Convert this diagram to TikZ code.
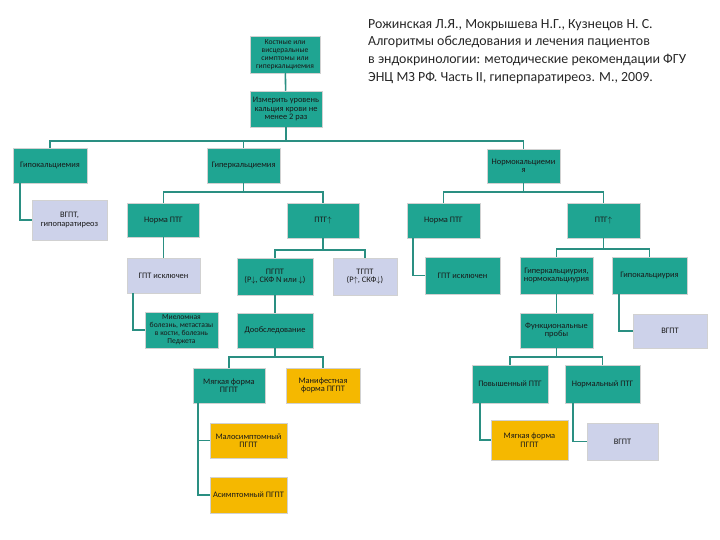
\documentclass[tikz,border=0pt]{standalone}
\usepackage{fontspec}
\setmainfont{Carlito}
\definecolor{tealc}{HTML}{1FA592}
\definecolor{linec}{HTML}{2A8F82}
\definecolor{lavc}{HTML}{CDD2EA}
\definecolor{orgc}{HTML}{F5B800}
\tikzset{
  box/.style={rectangle, draw=black!18, line width=0.5pt, inner sep=0.5pt, align=center,
     font=\fontsize{8.4}{8.6}\selectfont, text=black!90},
  small/.style={font=\fontsize{7.6}{8}\selectfont},
  tbox/.style={box, fill=tealc},
  lbox/.style={box, fill=lavc},
  obox/.style={box, fill=orgc},
  conn/.style={draw=linec, line width=1.6pt},
}
\begin{document}
\begin{tikzpicture}[x=1pt,y=-1pt]
\useasboundingbox (0,0) rectangle (720,540);
% nodes
\node[tbox, small, minimum width=70pt, minimum height=37pt] (n1) at (285,54.5) {Костные или\\висцеральные\\симптомы или\\гиперкальциемия};
\node[tbox, minimum width=72pt, minimum height=36pt] (n2) at (286,109) {Измерить уровень\\кальция крови не\\менее 2 раз};
\node[tbox, minimum width=74pt, minimum height=35pt] (hypo) at (50,165.5) {Гипокальциемия};
\node[tbox, minimum width=73pt, minimum height=35pt] (hyper) at (243.5,165.5) {Гиперкальциемия};
\node[tbox, minimum width=73pt, minimum height=34pt] (normo) at (523.5,166) {Нормокальциеми\\я};
\node[lbox, minimum width=75pt, minimum height=40pt] (vgpt1) at (69.5,220) {ВГПТ,\\гипопаратиреоз};
\node[tbox, minimum width=72pt, minimum height=34pt] (normaL) at (163.5,220) {Норма ПТГ};
\node[tbox, minimum width=72pt, minimum height=35pt] (ptgL) at (323,220.5) {ПТГ$\uparrow$};
\node[tbox, minimum width=73pt, minimum height=35pt] (normaR) at (443.5,220.5) {Норма ПТГ};
\node[tbox, minimum width=73pt, minimum height=35pt] (ptgR) at (603.5,220.5) {ПТГ$\uparrow$};
\node[lbox, minimum width=73pt, minimum height=35pt] (gptL) at (163.5,275.5) {ГПТ исключен};
\node[tbox, minimum width=76pt, minimum height=37pt] (pgpt) at (275,276.5) {ПГПТ\\(P$\downarrow$, СКФ N или $\downarrow$)};
\node[lbox, minimum width=64pt, minimum height=37pt] (tgpt) at (365,276.5) {ТГПТ\\(P$\uparrow$, СКФ$\downarrow$)};
\node[tbox, small, minimum width=73pt, minimum height=36pt] (miel) at (181.5,330) {Миеломная\\болезнь, метастазы\\в кости, болезнь\\Педжета};
\node[tbox, minimum width=76pt, minimum height=35pt] (doob) at (275,330.5) {Дообследование};
\node[tbox, minimum width=75pt, minimum height=37pt] (gptR) at (462.5,275.5) {ГПТ исключен};
\node[tbox, minimum width=73pt, minimum height=37pt] (hyperc) at (556.5,275.5) {Гиперкальциурия,\\нормокальциурия};
\node[tbox, minimum width=75pt, minimum height=37pt] (hypoc) at (649.5,275.5) {Гипокальциурия};
\node[tbox, minimum width=73pt, minimum height=35pt] (func) at (556.5,330.5) {Функциональные\\пробы};
\node[lbox, minimum width=74pt, minimum height=34pt] (vgptR) at (670,331) {ВГПТ};
\node[tbox, minimum width=72pt, minimum height=35pt] (mild) at (229,385.5) {Мягкая форма\\ПГПТ};
\node[obox, minimum width=74pt, minimum height=35pt] (manif) at (323,385.5) {Манифестная\\форма ПГПТ};
\node[obox, minimum width=77pt, minimum height=35pt] (malo) at (248.5,440.5) {Малосимптомный\\ПГПТ};
\node[obox, minimum width=77pt, minimum height=36pt] (asym) at (248.5,495) {Асимптомный ПГПТ};
\node[tbox, minimum width=76pt, minimum height=38pt] (povysh) at (510,384) {Повышенный ПТГ};
\node[tbox, minimum width=75pt, minimum height=38pt] (normal) at (602.5,384) {Нормальный ПТГ};
\node[obox, minimum width=77pt, minimum height=40pt] (mild2) at (529.5,440) {Мягкая форма\\ПГПТ};
\node[lbox, minimum width=71pt, minimum height=37pt] (vgpt3) at (622.5,441.5) {ВГПТ};
% citation
\node[anchor=north west, inner sep=0pt, align=left, font=\fontsize{13.9}{17.6}\selectfont, text=black!85] (cite) at (368,19)
 {Рожинская Л.Я., Мокрышева Н.Г., Кузнецов Н. С.\\Алгоритмы обследования и лечения пациентов\\в эндокринологии: методические рекомендации ФГУ\\ЭНЦ МЗ РФ. Часть II, гиперпаратиреоз. М., 2009.};
% bus coordinates
\coordinate (b1) at (286,141);
\coordinate (b2) at (243.5,192);
\coordinate (b3) at (523.5,192);
\coordinate (b4) at (323,250);
\coordinate (b5) at (603.5,249);
\coordinate (b6) at (275,357);
\coordinate (b7) at (556.5,357);
% connectors
\path[conn] (n1) -- (n2);
\path[conn] (n2.south) -- (b1);
\path[conn] (hypo.north) |- (b1) -| (normo.north);
\path[conn] (hyper.north) -- (hyper.north |- b1);
\path[conn] (hyper.south) -- (b2);
\path[conn] (normaL.north) |- (b2) -| (ptgL.north);
\path[conn] (normo.south) -- (b3);
\path[conn] (normaR.north) |- (b3) -| (ptgR.north);
\path[conn] (hypo.south -| 20,0) |- (vgpt1.west);
\path[conn] (normaL) -- (gptL);
\path[conn] (ptgL.south) -- (b4);
\path[conn] (pgpt.north) |- (b4) -| (tgpt.north);
\path[conn] (gptL.south -| 133,0) |- (miel.west);
\path[conn] (pgpt) -- (doob);
\path[conn] (doob.south) -- (b6);
\path[conn] (mild.north) |- (b6) -| (manif.north);
\path[conn] (mild.south -| 198,0) |- (asym.west);
\path[conn] (malo.west -| 198,0) -- (malo.west);
\path[conn] (normaR.south -| 413,0) |- (gptR.west);
\path[conn] (ptgR.south) -- (b5);
\path[conn] (hyperc.north) |- (b5) -| (hypoc.north);
\path[conn] (hyperc) -- (func);
\path[conn] (hypoc.south -| 619,0) |- (vgptR.west);
\path[conn] (func.south) -- (b7);
\path[conn] (povysh.north) |- (b7) -| (normal.north);
\path[conn] (povysh.south -| 480,0) |- (mild2.west);
\path[conn] (normal.south -| 573,0) |- (vgpt3.west);
\end{tikzpicture}
\end{document}
